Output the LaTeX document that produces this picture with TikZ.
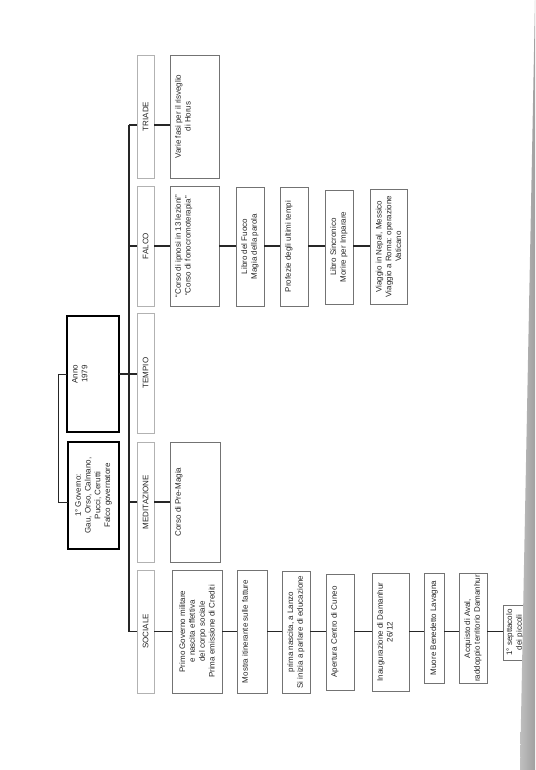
\documentclass[tikz,border=0pt]{standalone}
\usepackage{fontspec}
\setmainfont{Liberation Sans}
\usepackage{graphicx}
\newcommand{\bxc}[3]{\rotatebox{90}{\parbox[c][#1pt][c]{#2pt}{\centering #3}}}
\newcommand{\bxt}[3]{\rotatebox{90}{\parbox[c][#1pt][t]{#2pt}{\centering\vspace*{5pt}#3}}}
\begin{document}
\begin{tikzpicture}[x=1pt,y=-1pt,inner sep=0pt,outer sep=0pt,
  font=\fontsize{8}{9.8}\selectfont,text=black!85,
  root/.style={draw=black,line width=2pt},
  cat/.style={draw=gray!60,line width=.5pt},
  leaf/.style={draw=black!55,line width=.6pt},
  link/.style={black!85,line width=1.1pt}]
  \useasboundingbox (0,0) rectangle (535,770);
  \node[root] (anno) at (93,374) {\bxt{52}{116}{Anno\\1979}};
  \node[root] (gov) at (93.5,495.5) {\bxc{51}{107}{1° Governo:\\Gau, Orso, Calmano,\\Pucci, Cerutti\\Falco governatore}};
  \node[cat] (tri) at (145.5,116.5) {\bxc{17}{123}{TRIADE}};
  \node[cat] (fal) at (145.5,246) {\bxc{17}{120}{FALCO}};
  \node[cat] (tem) at (145.5,373) {\bxc{17}{120}{TEMPIO}};
  \node[cat] (med) at (145.5,502) {\bxc{17}{120}{MEDITAZIONE}};
  \node[cat] (soc) at (145.5,631.5) {\bxc{17}{123}{SOCIALE}};
  \node[leaf] (t1) at (194.5,116.5) {\bxt{49}{123}{Varie fasi per il risveglio\\di Horus}};
  \node[leaf] (f1) at (194.5,246) {\bxt{49}{120}{“Corso di ipnosi in 13 lezioni”\\“Corso di fonocromoterapia”}};
  \node[leaf] (f2) at (250,246.5) {\bxc{28}{119}{Libro del Fuoco\\Magia della parola}};
  \node[leaf] (f3) at (294,246.5) {\bxt{28}{119}{Profezie degli ultimi tempi}};
  \node[leaf] (f4) at (339,247) {\bxc{28}{114}{Libro Sincronico\\Morire per Imparare}};
  \node[leaf] (f5) at (388.5,246.5) {\bxc{37}{115}{Viaggio in Nepal, Messico\\Viaggio a Roma: operazione\\Vaticano}};
  \node[leaf] (m1) at (195,502) {\bxt{50}{120}{Corso di Pre-Magia}};
  \node[leaf] (s1) at (197,631.5) {\bxc{50}{123}{Primo Governo militare\\e nascita effettiva\\del corpo sociale\\Prima emissione di Crediti}};
  \node[leaf] (s2) at (252,631.5) {\bxt{30}{123}{Mostra itinerante sulle fatture}};
  \node[leaf] (s3) at (296,632) {\bxc{28}{122}{prima nascita, a Lanzo\\Si inizia a parlare di educazione}};
  \node[leaf] (s4) at (340,632) {\bxt{28}{116}{Apertura Centro di Cuneo}};
  \node[leaf] (s5) at (390.5,632) {\bxt{37}{118}{Inaugurazione di Damanhur\\26/12}};
  \node[leaf] (s6) at (434,628) {\bxc{20}{110}{Muore Benedetto Lavagna}};
  \node[leaf] (s7) at (473,628.5) {\bxc{28}{110}{Acquisto di Aval,\\raddoppio territorio Damanhur}};
  \node[leaf] (s8) at (515,632.5) {\bxc{24}{55}{1° septtacolo\\dei piccoli}};
  \coordinate (ttop) at (129,125);
  \coordinate (tbot) at (129,632);
  \draw[link] (ttop) -- (tbot);
  \draw[black!85,line width=.7pt] (anno.west) -- ++(-9,0) |- (gov.west |- med);
  \draw[link] (anno.east) -- (anno.east -| tem.west);
  \draw[link] (ttop) -- (ttop -| tri.west);
  \foreach \c in {fal,med,soc} \draw[link] (\c.west) -- (\c.west -| ttop);
  \draw[link] (tri.east |- ttop) -- (t1.west |- ttop);
  \draw[link] (med) -- (m1);
  \foreach \a/\b in {fal/f1,f1/f2,f2/f3,f3/f4,f4/f5}
    \draw[link] (\a.east |- fal) -- (\b.west |- fal);
  \foreach \a/\b in {soc/s1,s1/s2,s2/s3,s3/s4,s4/s5,s5/s6,s6/s7,s7/s8}
    \draw[link] (\a.east |- soc) -- (\b.west |- soc);
  \shade[left color=gray!50,right color=gray!75] (535,0) -- (535,770) -- (520,770) -- cycle;
\end{tikzpicture}
\end{document}
